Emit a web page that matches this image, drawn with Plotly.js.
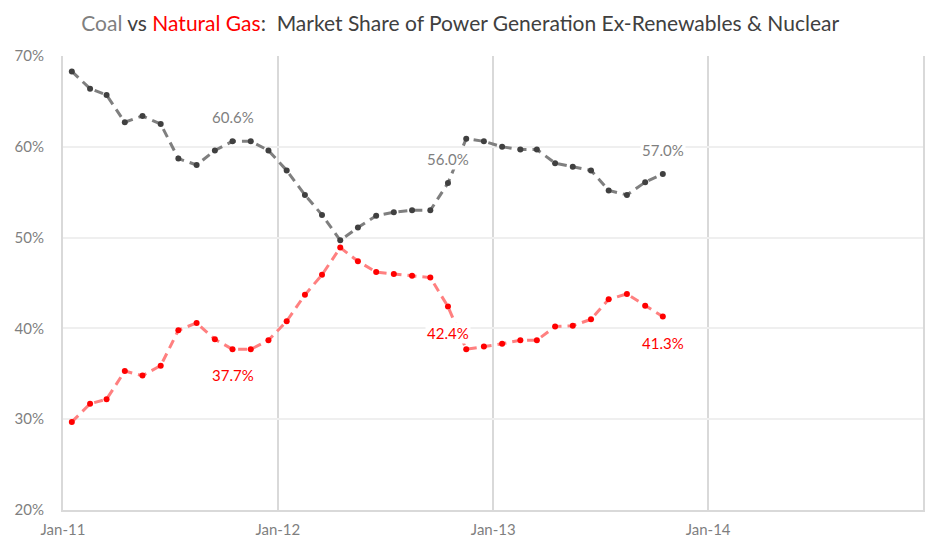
<!DOCTYPE html>
<html>
<head>
<meta charset="utf-8">
<script src="https://cdn.plot.ly/plotly-3.0.1.min.js"></script>
<style>
  body { margin: 0; background: #fff; }
  #chart { width: 942px; height: 560px; }
</style>
</head>
<body>
<div id="chart"></div>
<script>
// monthly shares, Jan-11 .. Oct-13
var months = [
  '2011-01','2011-02','2011-03','2011-04','2011-05','2011-06',
  '2011-07','2011-08','2011-09','2011-10','2011-11','2011-12',
  '2012-01','2012-02','2012-03','2012-04','2012-05','2012-06',
  '2012-07','2012-08','2012-09','2012-10','2012-11','2012-12',
  '2013-01','2013-02','2013-03','2013-04','2013-05','2013-06',
  '2013-07','2013-08','2013-09','2013-10'
];
var coal = [
  68.3, 66.4, 65.7, 62.7, 63.4, 62.5, 58.7, 58.0, 59.6, 60.6, 60.6, 59.6,
  57.4, 54.7, 52.5, 49.7, 51.1, 52.4, 52.8, 53.0, 53.0, 56.0, 60.9, 60.6,
  60.0, 59.7, 59.7, 58.2, 57.8, 57.4, 55.2, 54.7, 56.1, 57.0
];
var gas = [
  29.7, 31.7, 32.2, 35.3, 34.8, 35.9, 39.8, 40.6, 38.8, 37.7, 37.7, 38.7,
  40.8, 43.7, 45.9, 48.9, 47.4, 46.2, 46.0, 45.8, 45.6, 42.4, 37.7, 38.0,
  38.3, 38.7, 38.7, 40.2, 40.3, 41.0, 43.2, 43.8, 42.5, 41.3
];
var tickDates = ['2011-01-01', '2012-01-01', '2013-01-01', '2014-01-01'];
var tickLabels = ['Jan-11', 'Jan-12', 'Jan-13', 'Jan-14'];
// months that carry a value label
var labelIdx = [9, 21, 33];

var font = 'Lato, "Open Sans", sans-serif';
var coalLine = '#7f7f7f', coalDot = '#404040';
var gasLine = '#ff8080', gasDot = '#ff0000';

// points sit in the middle of each month
var xs = months.map(function (m) { return m + '-16'; });

var data = [
  {
    x: xs, y: coal, type: 'scatter', mode: 'lines+markers', name: 'Coal',
    line: {color: coalLine, width: 3, dash: '9px,6px'},
    marker: {color: coalDot, size: 6}
  },
  {
    x: xs, y: gas, type: 'scatter', mode: 'lines+markers', name: 'Natural Gas',
    line: {color: gasLine, width: 3, dash: '9px,6px'},
    marker: {color: gasDot, size: 6}
  }
];

var annotations = [];
labelIdx.forEach(function (i) {
  annotations.push({
    x: xs[i], y: coal[i], text: coal[i].toFixed(1) + '%',
    showarrow: false, yshift: 24, bgcolor: '#ffffff',
    font: {family: font, size: 15, color: coalLine}
  });
  annotations.push({
    x: xs[i], y: gas[i], text: gas[i].toFixed(1) + '%',
    showarrow: false, yshift: -26, bgcolor: '#ffffff',
    font: {family: font, size: 15, color: gasDot}
  });
});

var layout = {
  width: 942, height: 560,
  margin: {l: 63, r: 19, t: 56, b: 50},
  paper_bgcolor: '#ffffff',
  plot_bgcolor: '#ffffff',
  showlegend: false,
  font: {family: font, size: 15, color: '#7f7f7f'},
  title: {
    text: '<span style="color:#7f7f7f">Coal</span> vs <span style="color:#ff0000">Natural Gas</span>:  Market Share of Power Generation Ex-Renewables &amp; Nuclear',
    font: {family: font, size: 21, color: '#404040'},
    x: 20 / 942, xref: 'paper', xanchor: 'left',
    y: 0.958, yref: 'container', yanchor: 'middle'
  },
  xaxis: {
    type: 'date',
    range: ['2011-01-01', '2015-01-01'],
    tickvals: tickDates, ticktext: tickLabels,
    showgrid: true, gridcolor: '#d9d9d9', gridwidth: 2,
    showline: true, linecolor: '#d9d9d9', linewidth: 2,
    ticks: '', ticklabelstandoff: 5,
    zeroline: false, fixedrange: true
  },
  yaxis: {
    range: [20, 70], dtick: 10, ticksuffix: '%',
    showgrid: true, gridcolor: '#efefef', gridwidth: 2,
    showline: true, linecolor: '#d9d9d9', linewidth: 2, mirror: true,
    ticks: '', ticklabelstandoff: 14,
    zeroline: false, fixedrange: true
  },
  annotations: annotations
};

Plotly.newPlot('chart', data, layout, {displayModeBar: false, staticPlot: true});
</script>
</body>
</html>
